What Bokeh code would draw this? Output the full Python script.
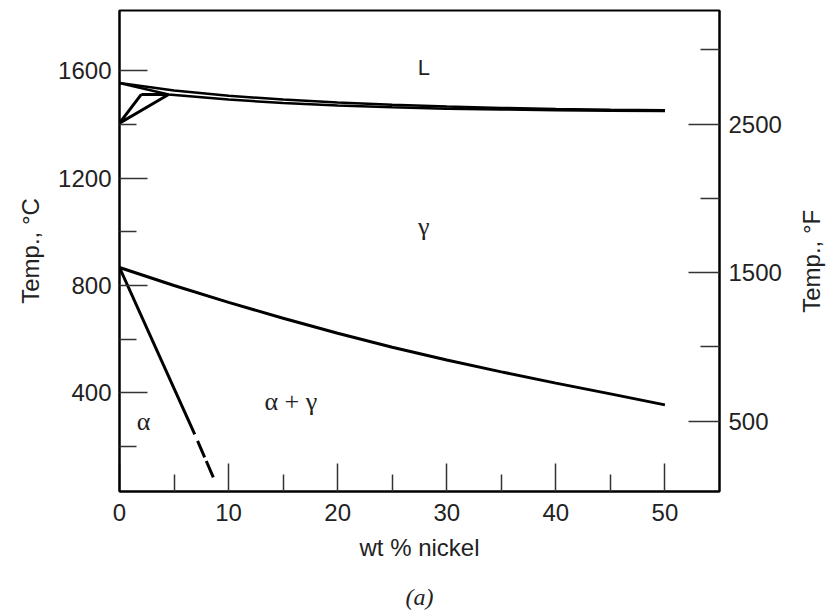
import math
from bokeh.plotting import figure
from bokeh.layouts import row
from bokeh.models import Range1d, LinearAxis, FixedTicker, Title
from bokeh.core.properties import value
from bokeh.embed import file_html
from bokeh.resources import INLINE

# ---- data ----
liquidus_ni = [0, 5, 10, 15, 20, 25, 30, 35, 40, 45, 50]
liquidus_t = [1555, 1527, 1507, 1493, 1482, 1474, 1467, 1462, 1458, 1455, 1453]
solidus_ni = [0, 4.5, 10, 15, 20, 25, 30, 35, 40, 45, 50]
solidus_t = [1555, 1512, 1493, 1480, 1471, 1464, 1459, 1456, 1453, 1451, 1450]
delta_ni = [2.0, 0, 4.5, 2.0]
delta_t = [1512, 1405, 1512, 1512]
gamma_ni = [0, 5, 10, 15, 20, 25, 30, 35, 40, 45, 50]
gamma_t = [867, 800, 737, 678, 622, 570, 522, 478, 436, 396, 355]
alpha_ni = [0, 6.9]
alpha_t = [867, 245]
alpha_dash_ni = [6.9, 8.6]
alpha_dash_t = [245, 85]

greek_ni = [27.9, 15.7, 2.2]
greek_t = [1020, 368, 293]
greek_text = ["γ", "α + γ", "α"]
liq_label_ni = [27.9]
liq_label_t = [1613]
liq_label_text = ["L"]

x_ticks = [0, 10, 20, 30, 40, 50]
x_minor = [5, 15, 25, 35, 45]
c_ticks = [400, 800, 1200, 1600]
c_minor = [200, 600, 1000, 1400]
f_ticks = [500, 1500, 2500]
f_minor = [1000, 2000, 3000]

FONT = "Liberation Sans"
TOP, BOTTOM, FH = 10, 120, 481

p = figure(frame_width=600, frame_height=FH,
           x_range=Range1d(0, 55), y_range=Range1d(32, 1825),
           output_backend="svg", toolbar_location=None,
           min_border_left=119, min_border_right=70,
           min_border_top=TOP, min_border_bottom=BOTTOM)
p.extra_y_ranges = {"F": Range1d(25, 3266)}
p.grid.visible = False
p.outline_line_color = "black"
p.outline_line_width = 2
p.background_fill_color = "white"
p.border_fill_color = "white"

raxis = LinearAxis(y_range_name="F")
p.add_layout(raxis, "right")

xa = p.xaxis[0]
ya = p.yaxis[0]
xa.ticker = FixedTicker(ticks=x_ticks, minor_ticks=x_minor)
ya.ticker = FixedTicker(ticks=c_ticks, minor_ticks=c_minor)
raxis.ticker = FixedTicker(ticks=f_ticks, minor_ticks=f_minor)

xa.axis_label = "wt % nickel"
ya.axis_label = "Temp., °C"

for ax in (xa, ya, raxis):
    ax.axis_line_width = 2
    ax.axis_line_color = "black"
    ax.major_tick_in = 28
    ax.major_tick_out = 0
    ax.minor_tick_in = 17
    ax.minor_tick_out = 0
    ax.major_tick_line_width = 1.5
    ax.minor_tick_line_width = 1.5
    ax.major_tick_line_color = "#333333"
    ax.minor_tick_line_color = "#333333"
    ax.major_label_text_font = FONT
    ax.major_label_text_font_size = "24px"
    ax.major_label_text_color = "#222222"
    ax.axis_label_text_font = FONT
    ax.axis_label_text_font_size = "24px"
    ax.axis_label_text_font_style = "normal"
    ax.axis_label_text_color = "#222222"

xa.major_label_standoff = 12
xa.axis_label_standoff = 10
ya.major_label_standoff = 8
ya.axis_label_standoff = 11
raxis.major_label_standoff = 9
raxis.major_tick_in = 31
raxis.minor_tick_in = 19

p.add_layout(Title(text="(a)", align="center", text_font="Liberation Serif",
                   text_font_style="italic", text_font_size="24px",
                   text_color="#222222", standoff=36), "below")

# ---- curves ----
p.line(liquidus_ni, liquidus_t, line_color="black", line_width=2.5)
p.line(solidus_ni, solidus_t, line_color="black", line_width=2.5)
p.line(delta_ni, delta_t, line_color="black", line_width=3)
p.line(gamma_ni, gamma_t, line_color="black", line_width=3)
p.line(alpha_ni, alpha_t, line_color="black", line_width=3)
p.line(alpha_dash_ni, alpha_dash_t, line_color="black", line_width=3,
       line_dash="0 7 18 4 18 60")

p.text(greek_ni, greek_t, text=greek_text, text_font=value("Liberation Serif"),
       text_font_size="26px", text_align="center", text_baseline="middle",
       text_color="#222222")
p.text(liq_label_ni, liq_label_t, text=liq_label_text, text_font=value(FONT),
       text_font_size="22px", text_align="center", text_baseline="middle",
       text_color="#222222")

# ---- right-hand axis title (reads bottom-to-top), in a narrow side panel ----
q = figure(frame_width=40, frame_height=FH,
           x_range=Range1d(0, 1), y_range=p.y_range,
           output_backend="svg", toolbar_location=None,
           x_axis_location=None, y_axis_location=None,
           min_border_left=0, min_border_right=0,
           min_border_top=TOP, min_border_bottom=BOTTOM)
q.grid.visible = False
q.outline_line_color = None
q.background_fill_color = "white"
q.border_fill_color = "white"
q.text([0.55], [890], text=["Temp., °F"], angle=math.pi / 2,
       text_font=value(FONT), text_font_size="24px",
       text_align="center", text_baseline="middle", text_color="#222222")

layout = row(p, q, spacing=0)
open("out.html", "w").write(file_html(layout, INLINE))
